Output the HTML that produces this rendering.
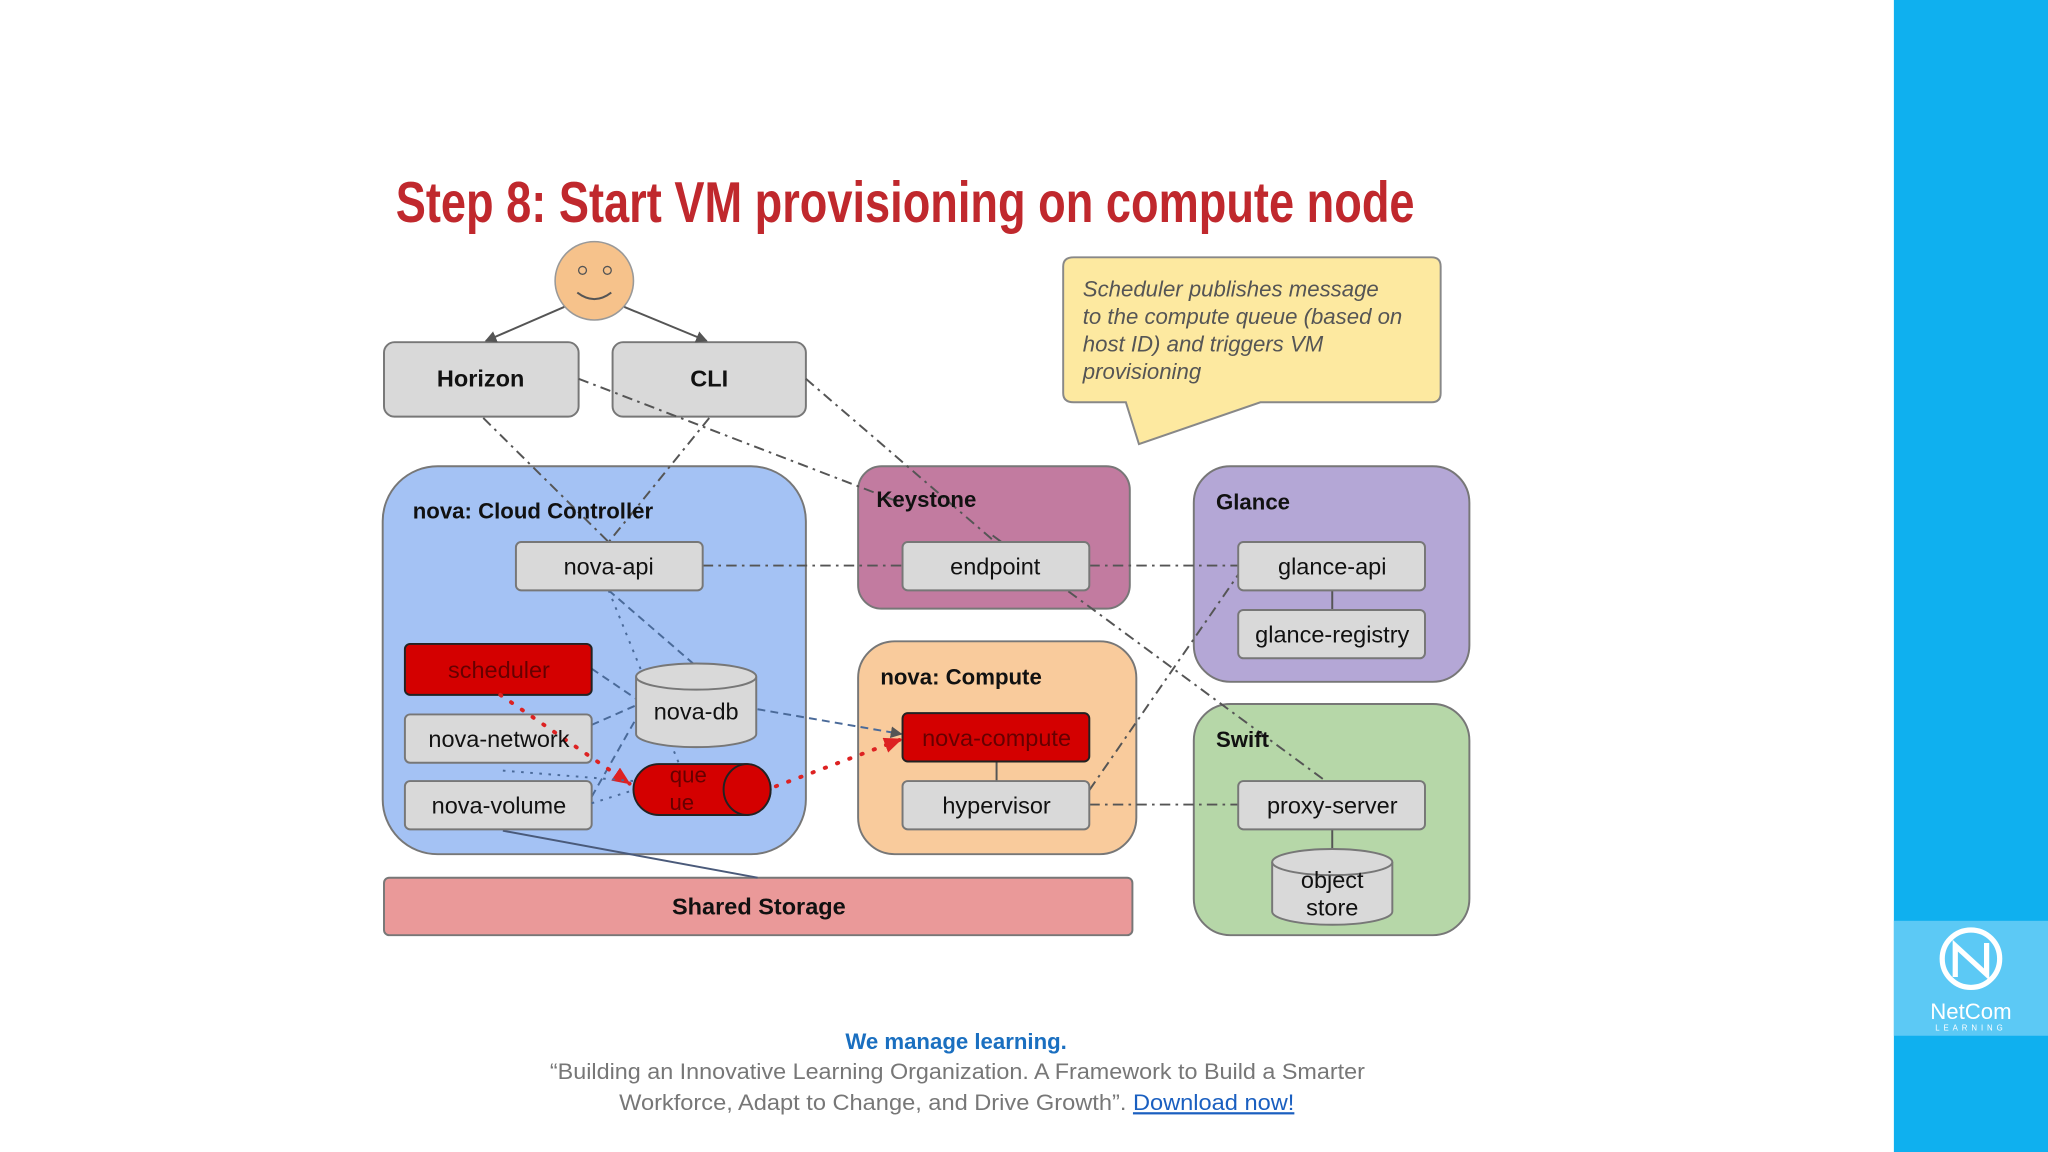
<!DOCTYPE html>
<html><head><meta charset="utf-8"><style>
html,body{margin:0;padding:0;background:#fff;width:2048px;height:1152px;overflow:hidden}
svg{display:block}
text{font-family:"Liberation Sans",sans-serif}
</style></head><body>
<svg width="2048" height="1152" viewBox="0 0 1568 882" xmlns="http://www.w3.org/2000/svg">
<defs>
<marker id="ar" markerUnits="userSpaceOnUse" markerWidth="9" markerHeight="9" refX="8" refY="4.5" orient="auto"><path d="M0,0 L9,4.5 L0,9 z" fill="#555"/></marker>
<marker id="rr" markerUnits="userSpaceOnUse" markerWidth="14" markerHeight="12" refX="13" refY="6" orient="auto"><path d="M0,0 L14,6 L0,12 z" fill="#d22"/></marker>
</defs>
<rect x="1450" y="0" width="118" height="882" fill="#0fb0ef"/>
<rect x="1450" y="705" width="118" height="88" fill="#5cc9f5"/>
<circle cx="1509" cy="734" r="22" fill="none" stroke="#fff" stroke-width="4"/>
<path d="M1497,748 L1497,724 L1521,746 L1521,722" fill="none" stroke="#fff" stroke-width="4"/>
<text x="1509" y="780" font-size="17" fill="#fff" text-anchor="middle">NetCom</text>
<text x="1509" y="789" font-size="6" fill="#fff" text-anchor="middle" letter-spacing="3">LEARNING</text>

<text x="303" y="170" font-size="44" font-weight="bold" fill="#c0282d" textLength="780" lengthAdjust="spacingAndGlyphs" style="font-family:'Liberation Sans Narrow','Liberation Sans',sans-serif">Step 8: Start VM provisioning on compute node</text>

<g stroke="#777" stroke-width="1.5">
<rect x="294" y="262" width="149" height="57" rx="8" fill="#d9d9d9"/>
<rect x="469" y="262" width="148" height="57" rx="8" fill="#d9d9d9"/>
<rect x="293" y="357" width="324" height="297" rx="42" fill="#a4c2f4"/>
<rect x="657" y="357" width="208" height="109" rx="18" fill="#c27ba0"/>
<rect x="914" y="357" width="211" height="165" rx="28" fill="#b4a7d6"/>
<rect x="657" y="491" width="213" height="163" rx="28" fill="#f9cb9c"/>
<rect x="914" y="539" width="211" height="177" rx="28" fill="#b6d7a8"/>
<rect x="294" y="672" width="573" height="44" rx="4" fill="#ea9999"/>
</g>
<path d="M822,197 H1096 Q1103,197 1103,204 V301 Q1103,308 1096,308 H965 L872,340 L862,308 H822 Q814,308 814,301 V204 Q814,197 822,197 Z" fill="#fde9a0" stroke="#888" stroke-width="1.5"/>
<circle cx="455" cy="215" r="30" fill="#f6c28b" stroke="#999" stroke-width="1.2"/>
<circle cx="446" cy="207" r="3" fill="none" stroke="#555"/><circle cx="465" cy="207" r="3" fill="none" stroke="#555"/>
<path d="M442,224 Q455,234 468,224" fill="none" stroke="#555" stroke-width="1.5"/>

<g stroke="#555" stroke-width="1.5" fill="none">
<line x1="432" y1="235" x2="372" y2="261" marker-end="url(#ar)"/>
<line x1="478" y1="235" x2="541" y2="261" marker-end="url(#ar)"/>
<g stroke-dasharray="8,4,2,4">
<line x1="370" y1="320" x2="466" y2="415"/>
<line x1="543" y1="320" x2="466" y2="415"/>
<line x1="443" y1="290" x2="690" y2="385"/>
<line x1="617" y1="290" x2="762" y2="415"/>
<line x1="538" y1="433" x2="691" y2="433"/>
<line x1="834" y1="433" x2="948" y2="433"/>
<line x1="760" y1="410" x2="1015" y2="598"/>
<line x1="834" y1="605" x2="948" y2="440"/>
<line x1="834" y1="616" x2="948" y2="616"/>
</g>
<g stroke="#4a6a99" stroke-dasharray="6,4">
<line x1="453" y1="512" x2="487" y2="535"/>
<line x1="453" y1="555" x2="487" y2="540"/>
<line x1="453" y1="610" x2="490" y2="545"/>
<line x1="466" y1="452" x2="533" y2="510"/>
<line x1="580" y1="543" x2="690" y2="562" marker-end="url(#ar)"/>
</g>
<g stroke="#4a6a99" stroke-dasharray="2,5">
<line x1="466" y1="452" x2="520" y2="585"/>
</g>
<line x1="385" y1="636" x2="580" y2="672" stroke="#4a5a7a"/>
<line x1="1020" y1="452" x2="1020" y2="467"/>
<line x1="763" y1="583" x2="763" y2="598"/>
<line x1="1020" y1="635" x2="1020" y2="652"/>
</g>

<g stroke="#777" stroke-width="1.5" fill="#d9d9d9">
<rect x="395" y="415" width="143" height="37" rx="4"/>
<rect x="691" y="415" width="143" height="37" rx="4"/>
<rect x="948" y="415" width="143" height="37" rx="4"/>
<rect x="948" y="467" width="143" height="37" rx="4"/>
<rect x="310" y="547" width="143" height="37" rx="4"/>
<rect x="310" y="598" width="143" height="37" rx="4"/>
<rect x="691" y="598" width="143" height="37" rx="4"/>
<rect x="948" y="598" width="143" height="37" rx="4"/>
<rect x="310" y="493" width="143" height="39" rx="4" fill="#d40000" stroke="#222"/>
<rect x="691" y="546" width="143" height="37" rx="4" fill="#d40000" stroke="#222"/>
<path d="M487,518 V562 A46,10 0 0 0 579,562 V518" />
<ellipse cx="533" cy="518" rx="46" ry="10"/>
<path d="M974,660 V698 A46,10 0 0 0 1066,698 V660"/>
<ellipse cx="1020" cy="660" rx="46" ry="10"/>
<rect x="485" y="585" width="105" height="39" rx="19.5" fill="#d40000" stroke="#222"/>
<ellipse cx="572" cy="604.5" rx="18" ry="19.5" fill="#d40000" stroke="#222"/>
</g>
<g stroke="#d22" stroke-width="3" stroke-dasharray="1,9" stroke-linecap="round" fill="none">
<path d="M383,532 L482,600" marker-end="url(#rr)"/>
<path d="M594,602 L690,566" marker-end="url(#rr)"/>
</g>
<g stroke="#4a6a99" stroke-width="1.5" stroke-dasharray="2,5" fill="none">
<line x1="385" y1="590" x2="485" y2="598"/>
<line x1="453" y1="615" x2="485" y2="605"/>
</g>

<g font-size="18" text-anchor="middle" fill="#111">
<text x="368" y="296" font-weight="bold">Horizon</text>
<text x="543" y="296" font-weight="bold">CLI</text>
<text x="466" y="440">nova-api</text>
<text x="762" y="440">endpoint</text>
<text x="1020" y="440">glance-api</text>
<text x="1020" y="492">glance-registry</text>
<text x="382" y="519" fill="#600">scheduler</text>
<text x="382" y="572">nova-network</text>
<text x="382" y="623">nova-volume</text>
<text x="533" y="551">nova-db</text>
<text x="527" y="599" fill="#600" font-size="17">que</text>
<text x="522" y="620" fill="#600" font-size="17">ue</text>
<text x="763" y="571" fill="#600">nova-compute</text>
<text x="763" y="623">hypervisor</text>
<text x="1020" y="623">proxy-server</text>
<text x="1020" y="680">object</text>
<text x="1020" y="701">store</text>
<text x="581" y="700" font-weight="bold">Shared Storage</text>
</g>
<g font-size="17" font-weight="bold" fill="#111">
<text x="316" y="397">nova: Cloud Controller</text>
<text x="671" y="388">Keystone</text>
<text x="931" y="390">Glance</text>
<text x="674" y="524">nova: Compute</text>
<text x="931" y="572">Swift</text>
</g>
<g font-size="17" font-style="italic" fill="#555">
<text x="829" y="227">Scheduler publishes message</text>
<text x="829" y="248">to the compute queue (based on</text>
<text x="829" y="269">host ID) and triggers VM</text>
<text x="829" y="290">provisioning</text>
</g>

<text x="732" y="803" font-size="17" font-weight="bold" fill="#1a6fc0" text-anchor="middle">We manage learning.</text>
<text x="421" y="826" font-size="17" fill="#777" textLength="624" lengthAdjust="spacingAndGlyphs">“Building an Innovative Learning Organization. A Framework to Build a Smarter</text>
<text x="474" y="850" font-size="17" fill="#777" textLength="517" lengthAdjust="spacingAndGlyphs">Workforce, Adapt to Change, and Drive Growth”. <tspan fill="#1a5fc0" text-decoration="underline">Download now!</tspan></text>
</svg>
</body></html>
